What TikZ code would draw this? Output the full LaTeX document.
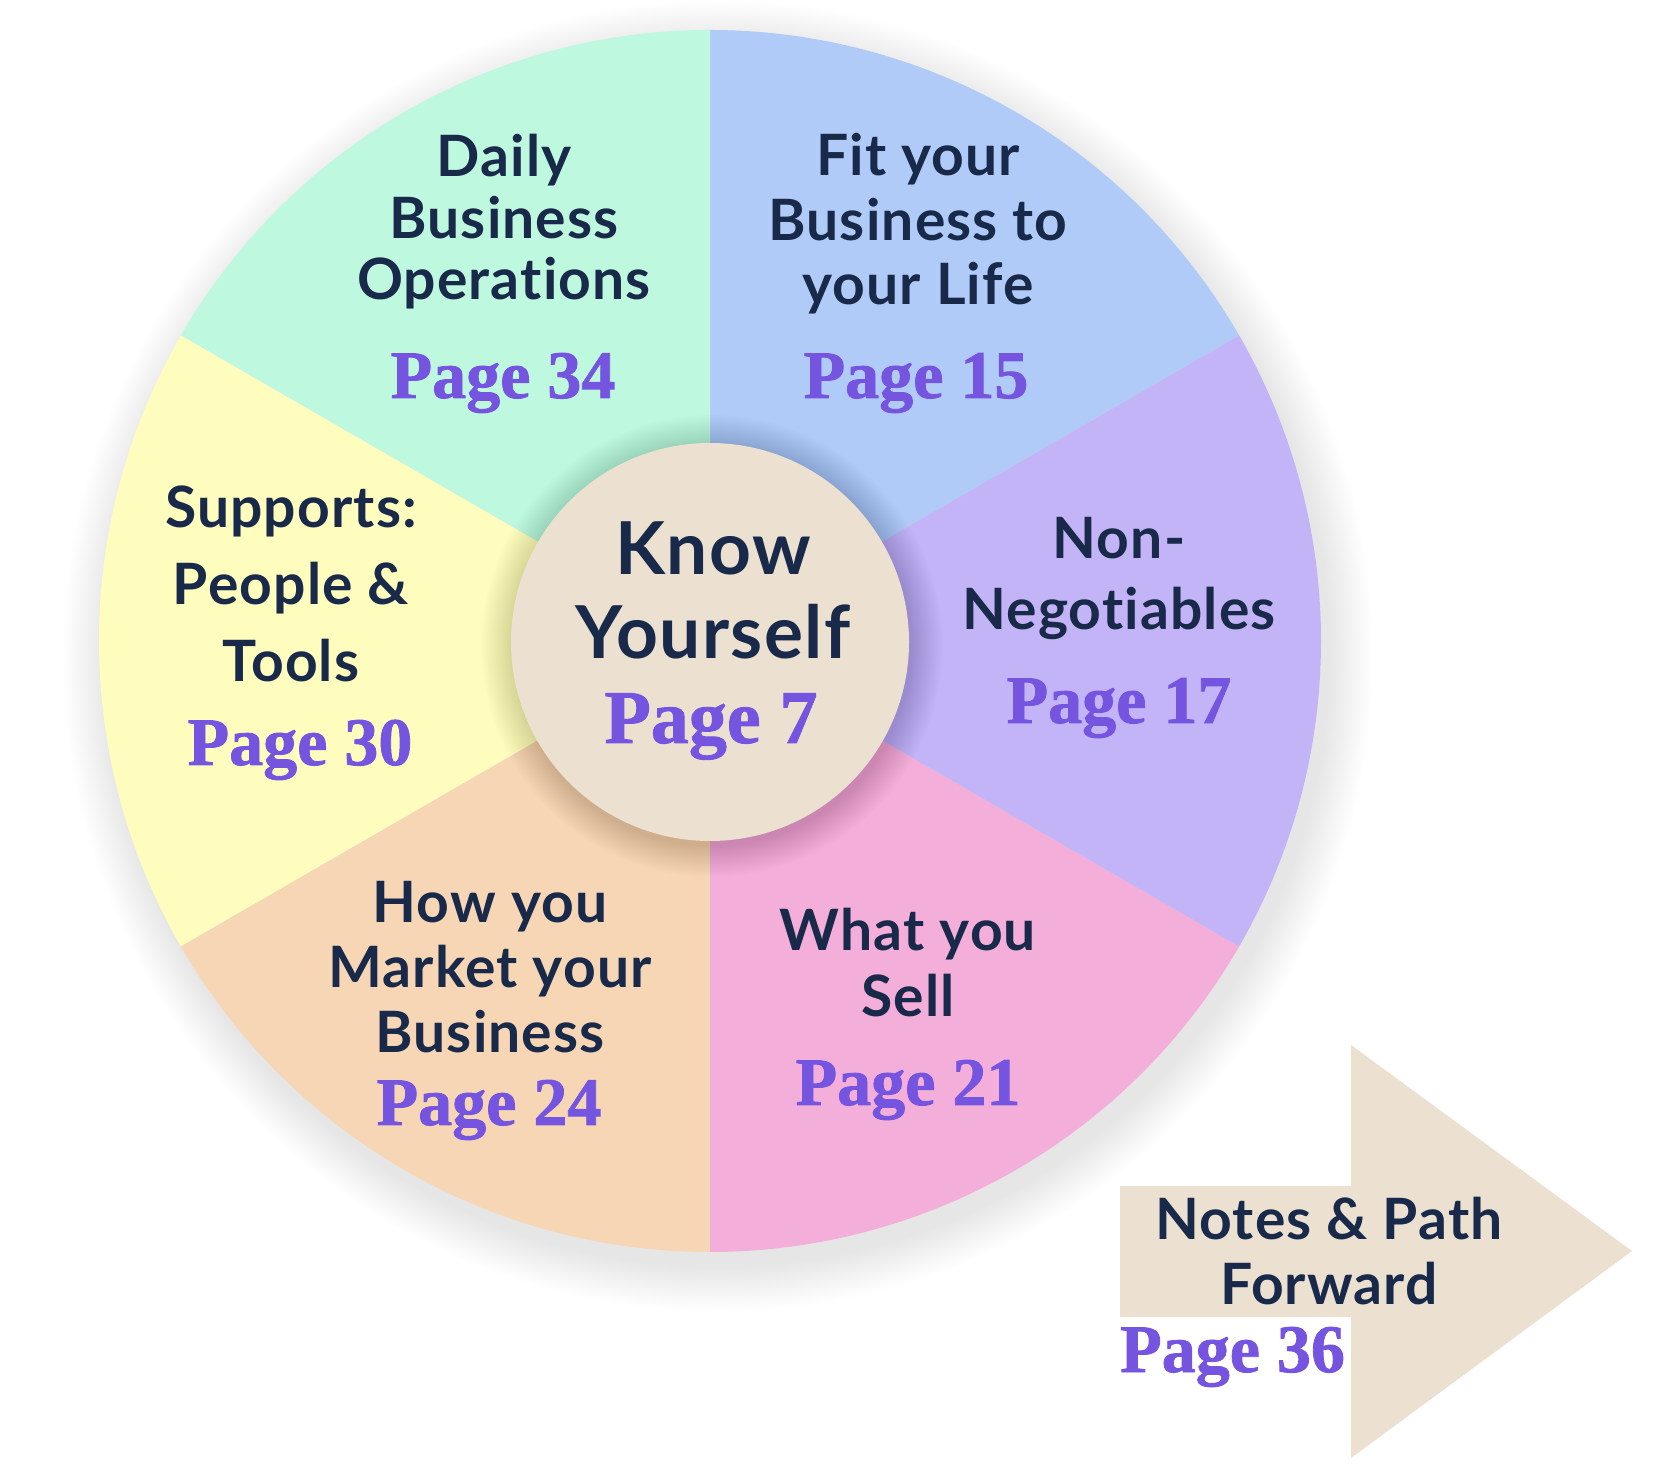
\documentclass[tikz,border=0pt]{standalone}
\usepackage{fontspec}
\setmainfont{Lato}[Ligatures={NoCommon}, LetterSpace=2]
\newfontfamily\pagefont{Liberation Serif}[BoldFeatures={FakeBold=1.2}]
\definecolor{wblue}{HTML}{B1CBF8}
\definecolor{wmint}{HTML}{BEF9DF}
\definecolor{wyellow}{HTML}{FEFDBE}
\definecolor{wpeach}{HTML}{F7D6B6}
\definecolor{wpink}{HTML}{F4AEDA}
\definecolor{wlav}{HTML}{C3B3F7}
\definecolor{wbeige}{HTML}{ECE0D1}
\definecolor{wnavy}{HTML}{182949}
\definecolor{wpurple}{HTML}{7555E0}
\newcommand{\wheellabel}[3]{{\fontsize{#1}{#2}\selectfont\begin{tabular}[t]{@{}c@{}}#3\end{tabular}}}
\tikzset{
  lbl/.style={text=wnavy, font=\bfseries, anchor=base, inner sep=0},
  pg/.style={text=wpurple, anchor=base, inner sep=0, font=\pagefont\bfseries\fontsize{68}{68}\selectfont},
}
\begin{document}
\begin{tikzpicture}[x=1pt,y=1pt]
\useasboundingbox (0,0) rectangle (1664,1478);
\fill[white] (0,0) rectangle (1664,1478);
\coordinate (C) at (710,837);
% soft shadow of the wheel
\foreach \i in {0,...,24}{
  \fill[black,opacity=0.005] (718,822) circle[radius={611+44-1.8*\i}];
}
% sectors
\foreach \a/\b/\c in {30/90/wblue, 90/150/wmint, 150/210/wyellow, 210/270/wpeach, 270/330/wpink, -30/30/wlav}{
  \fill[\c] (C) -- ++(\a:611) arc[start angle=\a, end angle=\b, radius=611] -- cycle;
}
% shadow of the core
\foreach \i in {0,...,19}{
  \fill[black,opacity=0.008] (712,832) circle[radius={199+32-1.6*\i}];
}
\node[circle, fill=wbeige, minimum size=398, inner sep=0] (core) at (710,836) {};
% arrow
\fill[wbeige] (1120,292) -- (1351,292) -- (1351,433) -- (1632,227) -- (1351,20) -- (1351,161) -- (1120,161) -- cycle;

% labels
\node[lbl] (ky) at (713,903) {\wheellabel{73}{84}{Know\\Yourself}};
\node[pg, font=\pagefont\bfseries\fontsize{76}{76}\selectfont] (p7) at (711,735) {Page 7};

\node[lbl] (fit) at (918,1302) {\wheellabel{57}{64.5}{Fit your\\Business to\\your Life}};
\node[pg] (p15) at (916,1080) {Page 15};

\node[lbl] (daily) at (504,1301) {\wheellabel{57}{61.5}{Daily\\Business\\Operations}};
\node[pg] (p34) at (503,1080) {Page 34};

\node[lbl] (nonneg) at (1119,919) {\wheellabel{57}{71}{Non-\\Negotiables}};
\node[pg] (p17) at (1119,755) {Page 17};

\node[lbl] (sell) at (908,527) {\wheellabel{57}{66}{What you\\Sell}};
\node[pg] (p21) at (908,373) {Page 21};

\node[lbl] (market) at (490,555) {\wheellabel{57}{65}{How you\\Market your\\Business}};
\node[pg] (p24) at (489,353) {Page 24};

\node[lbl] (supports) at (291,950) {\wheellabel{57}{77}{Supports:\\People \&\\Tools}};
\node[pg] (p30) at (300,713) {Page 30};

\node[lbl] (notes) at (1329,239) {\wheellabel{57}{65}{Notes \& Path\\Forward}};
\node[pg, anchor=base west] (p36) at (1120,106) {Page 36};
\end{tikzpicture}
\end{document}
